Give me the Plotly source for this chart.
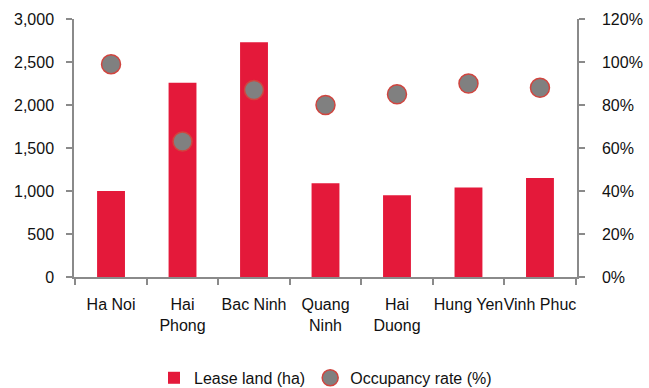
import plotly.graph_objects as go

provinces = ["Ha Noi", "Hai<br>Phong", "Bac Ninh", "Quang<br>Ninh", "Hai<br>Duong", "Hung Yen", "Vinh Phuc"]
lease_land = [1000, 2260, 2730, 1090, 950, 1040, 1150]
occupancy = [99, 63, 87, 80, 85, 90, 88]

left_ticks = [0, 500, 1000, 1500, 2000, 2500, 3000]
left_labels = ["0", "500", "1,000", "1,500", "2,000", "2,500", "3,000"]
right_ticks = [0, 20, 40, 60, 80, 100, 120]
right_labels = ["0%", "20%", "40%", "60%", "80%", "100%", "120%"]

FONT = "Liberation Sans, Arial, sans-serif"
AXIS = "#8a8a8a"

fig = go.Figure()
fig.add_trace(go.Bar(
    x=provinces, y=lease_land, name="Lease land (ha)",
    marker=dict(color="#E4193A", line=dict(width=0)),
    yaxis="y",
))
fig.add_trace(go.Scatter(
    x=provinces, y=occupancy, name="Occupancy rate (%)",
    mode="markers",
    marker=dict(color="#808080", size=19, line=dict(color="#D0453F", width=1.5)),
    yaxis="y2",
))

fig.update_layout(
    width=649, height=388,
    margin=dict(l=74, r=72, t=19, b=111, autoexpand=False),
    paper_bgcolor="white", plot_bgcolor="white",
    font=dict(family=FONT, size=16, color="#111111"),
    bargap=0.61,
    showlegend=True,
    legend=dict(orientation="h", x=0.5, xanchor="center", y=-0.391, yanchor="middle",
                font=dict(size=16), itemwidth=30, traceorder="normal",
                bgcolor="rgba(0,0,0,0)"),
    xaxis=dict(
        showline=True, linecolor=AXIS, linewidth=1.5,
        ticks="outside", ticklen=6, tickcolor=AXIS, tickwidth=1.5,
        tickson="boundaries", showgrid=False, zeroline=False,
        tickangle=0, ticklabelstandoff=12,
    ),
    yaxis=dict(
        range=[0, 3000], tickvals=left_ticks, ticktext=left_labels,
        showline=True, linecolor=AXIS, linewidth=1.5,
        ticks="outside", ticklen=6, tickcolor=AXIS, tickwidth=1.5,
        showgrid=False, zeroline=False, ticklabelstandoff=9,
    ),
    yaxis2=dict(
        range=[0, 120], tickvals=right_ticks, ticktext=right_labels,
        overlaying="y", side="right",
        showline=True, linecolor=AXIS, linewidth=1.5,
        ticks="outside", ticklen=6, tickcolor=AXIS, tickwidth=1.5,
        showgrid=False, zeroline=False, ticklabelstandoff=14,
    ),
)

fig.write_html("out.html")
